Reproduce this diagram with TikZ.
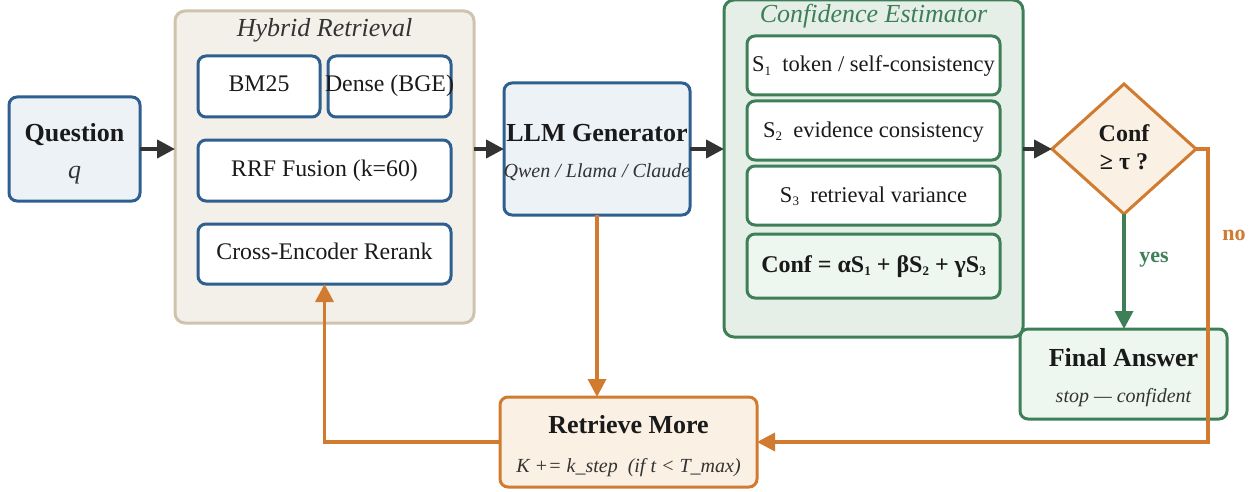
\documentclass[tikz,border=0pt]{standalone}
\usepackage{fontspec}
\setmainfont{Liberation Serif}
\usetikzlibrary{arrows.meta,shapes.geometric}
\definecolor{bblue}{HTML}{2F5F8F}
\definecolor{fblue}{HTML}{EDF2F7}
\definecolor{btan}{HTML}{CFC3AE}
\definecolor{ftan}{HTML}{F3F0EA}
\definecolor{bgreen}{HTML}{3E7F58}
\definecolor{fgreen}{HTML}{E5EFE8}
\definecolor{fgreenl}{HTML}{EEF6F0}
\definecolor{borange}{HTML}{D07B30}
\definecolor{forange}{HTML}{FAF0E3}
\definecolor{darkarrow}{HTML}{333333}
\definecolor{txt}{HTML}{1A1A1A}
\definecolor{ttl}{HTML}{333333}
\newcommand{\fsz}[1]{\fontsize{#1}{#1}\selectfont}
\newcommand{\lowsub}[1]{\raisebox{-0.35ex}{\fontsize{13}{13}\selectfont #1}}
\tikzset{
  basebox/.style={draw, rounded corners=8, line width=3, inner sep=0, outer sep=0},
  bluebox/.style={basebox, draw=bblue, fill=fblue},
  whitebox/.style={basebox, draw=bblue, fill=white},
  gwhitebox/.style={basebox, draw=bgreen, fill=white},
  gfillbox/.style={basebox, draw=bgreen, fill=fgreenl},
  orangebox/.style={basebox, draw=borange, fill=forange},
  container/.style={draw, rounded corners=10, line width=3, inner sep=0, outer sep=0},
  txtnode/.style={anchor=base, inner sep=0, text=txt},
  boldtitle/.style={txtnode, font=\bfseries\fsz{26}},
  subtitle/.style={txtnode, font=\itshape\fsz{20}, text=ttl},
  regular/.style={txtnode, font=\fsz{23.8}},
  sline/.style={txtnode, font=\fsz{22.5}},
  darr/.style={draw=darkarrow, line width=4, -{Triangle[length=18,width=18]}},
  oarr/.style={draw=borange, line width=3.5, -{Triangle[length=18,width=18]}},
  garr/.style={draw=bgreen, line width=3.5, -{Triangle[length=18,width=18]}},
}
\begin{document}
\begin{tikzpicture}[x=1pt,y=-1pt]
\useasboundingbox (0,0) rectangle (1260,492);
% containers
\node[container, draw=btan, fill=ftan, minimum width=299, minimum height=312] (hybrid) at (324.5,167) {};
\node[txtnode, font=\itshape\fsz{26}, text=ttl] (hybridT) at (324.5,37) {Hybrid Retrieval};
\node[container, draw=bgreen, fill=fgreen, minimum width=299, minimum height=337] (conf) at (873.5,168.5) {};
\node[txtnode, font=\itshape\fsz{26}, text=bgreen] (confT) at (873.5,23) {Confidence Estimator};
% question
\node[bluebox, minimum width=131, minimum height=104] (question) at (74.5,149) {};
\node[boldtitle] (questionT) at (74.5,142) {Question};
\node[txtnode, font=\itshape\fsz{26}, text=ttl] (qT) at (74.5,178) {q};
% hybrid inner boxes
\node[whitebox, minimum width=122, minimum height=61] (bm25) at (259,86.5) {};
\node[regular] (bm25T) at (259,92) {BM25};
\node[whitebox, minimum width=123, minimum height=61] (dense) at (389.5,86.5) {};
\node[regular] (denseT) at (389.5,92) {Dense (BGE)};
\node[whitebox, minimum width=253, minimum height=61] (rrf) at (324.5,170.5) {};
\node[regular] (rrfT) at (324.5,176) {RRF Fusion (k=60)};
\node[whitebox, minimum width=253, minimum height=60] (cross) at (324.5,254) {};
\node[regular] (crossT) at (324.5,259) {Cross-Encoder Rerank};
% LLM
\node[bluebox, minimum width=186, minimum height=132] (llm) at (597,149) {};
\node[boldtitle] (llmT) at (597,141) {LLM Generator};
\node[subtitle] (llmS) at (597,177) {Qwen / Llama / Claude};
% confidence inner boxes
\node[gwhitebox, minimum width=253, minimum height=59] (s1) at (873.5,65.5) {};
\node[sline] (s1T) at (873.5,72) {S\lowsub{1}\ \ token / self-consistency};
\node[gwhitebox, minimum width=253, minimum height=59] (s2) at (873.5,130.5) {};
\node[sline] (s2T) at (873.5,137) {S\lowsub{2}\ \ evidence consistency};
\node[gwhitebox, minimum width=253, minimum height=59] (s3) at (873.5,195.5) {};
\node[sline] (s3T) at (873.5,202) {S\lowsub{3}\ \ retrieval variance};
\node[gfillbox, minimum width=253, minimum height=64] (formula) at (873.5,266) {};
\node[txtnode, font=\bfseries\fsz{24}] (formulaT) at (873.5,272) {Conf = αS\lowsub{\bfseries 1} + βS\lowsub{\bfseries 2} + γS\lowsub{\bfseries 3}};
% decision
\node[diamond, draw=borange, fill=forange, line width=3, minimum width=144, minimum height=130, inner sep=0, outer sep=0] (dec) at (1124,149) {};
\node[txtnode, font=\bfseries\fsz{24}] (decT1) at (1124,142) {Conf};
\node[txtnode, font=\bfseries\fsz{24}] (decT2) at (1124,169) {≥ τ ?};
% final answer
\node[gfillbox, minimum width=207, minimum height=90] (final) at (1123.5,374) {};
\node[boldtitle] (finalT) at (1123.5,366) {Final Answer};
\node[subtitle] (finalS) at (1123.5,402) {stop — confident};
% retrieve more
\node[orangebox, minimum width=257, minimum height=90] (retrieve) at (628.5,442) {};
\node[boldtitle] (retrieveT) at (628.5,433) {Retrieve More};
\node[subtitle] (retrieveS) at (628.5,472) {K += k\_step\ \ (if t < T\_max)};
% connectors
\draw[darr] (question.east) -- (question.east -| hybrid.west);
\draw[darr] (llm.west -| hybrid.east) -- (llm.west);
\draw[darr] (llm.east) -- (llm.east -| conf.west);
\draw[darr] (dec.west -| conf.east) -- (dec.west);
\draw[garr] (dec.south) -- (dec.south |- final.north);
\draw[oarr] (dec.east) -- ++(12,0) |- (retrieve.east);
\draw[oarr] (llm.south) -- (llm.south |- retrieve.north);
\draw[oarr] (retrieve.west) -| (cross.south);
\node[txtnode, font=\bfseries\fsz{22}, text=bgreen] (yesT) at (1154,262) {yes};
\node[txtnode, font=\bfseries\fsz{22}, text=borange] (noT) at (1234,240) {no};
\end{tikzpicture}
\end{document}
